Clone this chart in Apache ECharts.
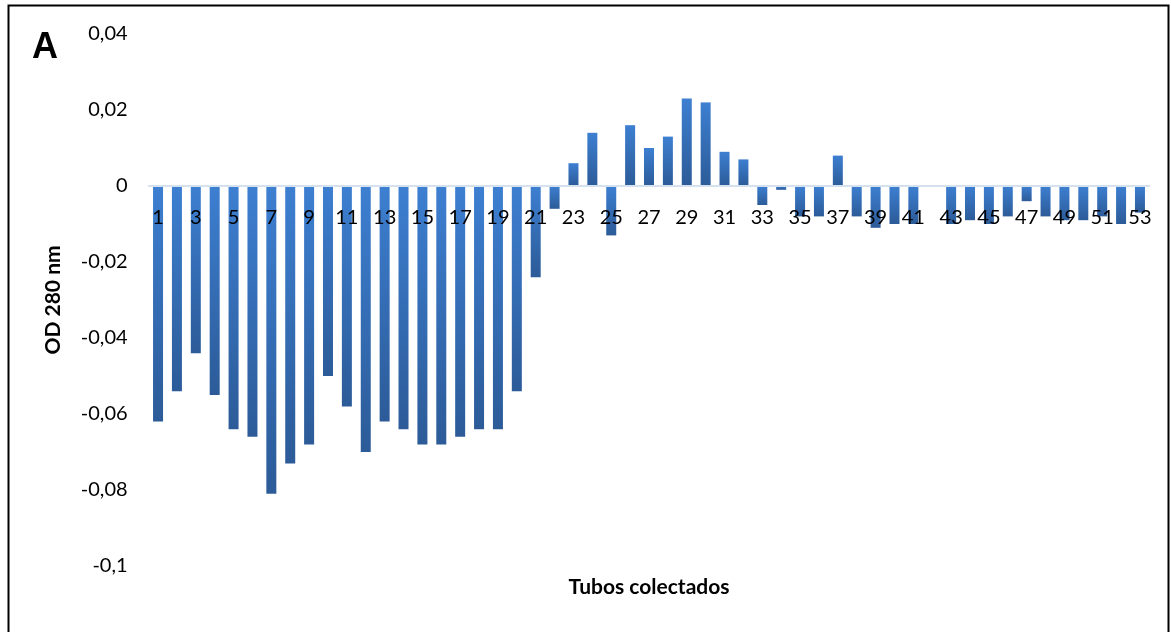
<!DOCTYPE html>
<html>
<head>
<meta charset="utf-8">
<script src="https://cdn.jsdelivr.net/npm/echarts@6/dist/echarts.min.js"></script>
<style>
html,body{margin:0;padding:0;background:#fff;}
#c{width:1171px;height:632px;}
</style>
</head>
<body>
<div id="c"></div>
<script>
var categories = [];
for (var i = 1; i <= 53; i++) categories.push(String(i));

var odValues = [
  -0.062, -0.054, -0.044, -0.055, -0.064, -0.066, -0.081, -0.073, -0.068, -0.050,
  -0.058, -0.070, -0.062, -0.064, -0.068, -0.068, -0.066, -0.064, -0.064, -0.054,
  -0.024, -0.006, 0.006, 0.014, -0.013, 0.016, 0.010, 0.013, 0.023, 0.022,
  0.009, 0.007, -0.005, -0.001, -0.008, -0.008, 0.008, -0.008, -0.011, -0.010,
  -0.010, 0, -0.010, -0.009, -0.010, -0.008, -0.004, -0.008, -0.009, -0.009,
  -0.008, -0.010, -0.007
];

var yTicks = [-0.1, -0.08, -0.06, -0.04, -0.02, 0, 0.02, 0.04];
var yMin = -0.1, yMax = 0.04;

var gridTop = 34, gridBottom = 66, chartH = 632;
var plotH = chartH - gridTop - gridBottom;
var zeroOffset = plotH * (0 - yMin) / (yMax - yMin);

var chart = echarts.init(document.getElementById('c'), null, {renderer: 'canvas'});
var fontFam = 'Lato, "Open Sans", sans-serif';

chart.setOption({
  animation: false,
  backgroundColor: '#ffffff',
  grid: {left: 148.6, right: 21.6, top: gridTop, bottom: gridBottom, containLabel: false},
  xAxis: {
    type: 'category',
    data: categories,
    position: 'bottom',
    offset: -zeroOffset,
    z: 10,
    axisLine: {show: true, onZero: false, lineStyle: {color: '#D6E1F0', width: 2}},
    axisTick: {show: false},
    axisLabel: {
      interval: 1,
      margin: 22,
      color: '#000',
      fontFamily: fontFam,
      fontSize: 20
    },
    splitLine: {show: false}
  },
  yAxis: {
    type: 'value',
    min: yMin,
    max: yMax,
    interval: 0.02,
    name: 'OD 280 nm',
    nameLocation: 'middle',
    nameGap: 85,
    nameRotate: 90,
    nameTextStyle: {color: '#000', fontFamily: fontFam, fontWeight: 'bold', fontSize: 21},
    axisLine: {show: false},
    axisTick: {show: false},
    splitLine: {show: false},
    axisLabel: {
      margin: 21,
      color: '#000',
      fontFamily: fontFam,
      fontSize: 20,
      formatter: function (v) {
        var r = Math.round(v * 100) / 100;
        if (r === 0) return '0';
        return String(r).replace('.', ',');
      }
    }
  },
  series: [{
    type: 'bar',
    data: odValues,
    barWidth: 10,
    itemStyle: {
      color: new echarts.graphic.LinearGradient(0, 0, 0, 1, [
        {offset: 0, color: '#3D7FD1'},
        {offset: 1, color: '#2C5B98'}
      ])
    }
  }],
  graphic: [
    {
      type: 'rect',
      shape: {x: 8.5, y: 5.5, width: 1160, height: 640},
      style: {fill: 'none', stroke: '#000', lineWidth: 2},
      silent: true
    },
    {
      type: 'text',
      left: 32,
      top: 30,
      style: {text: 'A', font: 'bold 36px "Liberation Sans", Arial, sans-serif', fill: '#000'}
    },
    {
      type: 'text',
      x: 649,
      y: 587,
      style: {
        text: 'Tubos colectados',
        font: 'bold 21px Lato, "Open Sans", sans-serif',
        fill: '#000',
        align: 'center',
        verticalAlign: 'middle'
      }
    }
  ]
});
</script>
</body>
</html>
